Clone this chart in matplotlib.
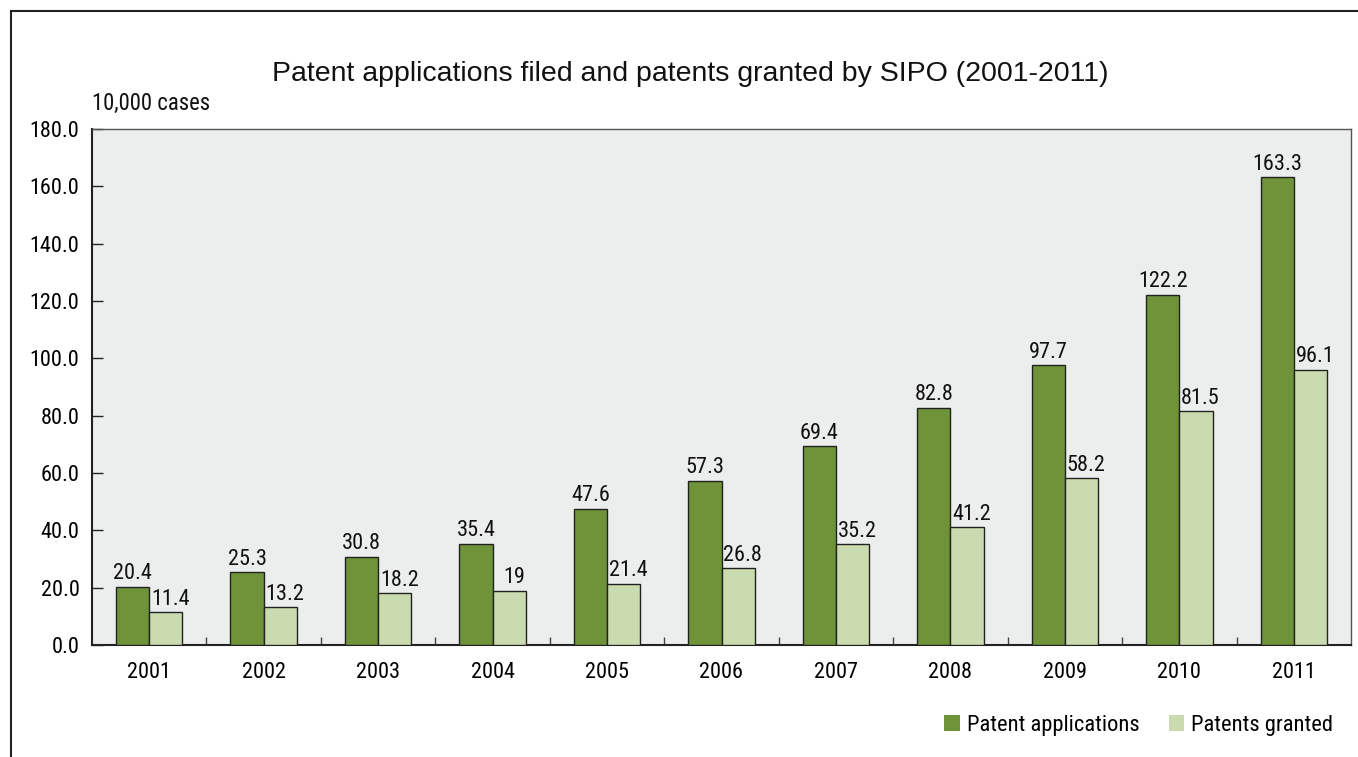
import matplotlib
matplotlib.use("Agg")
import matplotlib.pyplot as plt
import numpy as np
from matplotlib.patches import Rectangle
from matplotlib.lines import Line2D

years = ["2001", "2002", "2003", "2004", "2005", "2006", "2007", "2008", "2009", "2010", "2011"]
applications = [20.4, 25.3, 30.8, 35.4, 47.6, 57.3, 69.4, 82.8, 97.7, 122.2, 163.3]
granted = [11.4, 13.2, 18.2, 19, 21.4, 26.8, 35.2, 41.2, 58.2, 81.5, 96.1]
app_labels = ["20.4", "25.3", "30.8", "35.4", "47.6", "57.3", "69.4", "82.8", "97.7", "122.2", "163.3"]
grant_labels = ["11.4", "13.2", "18.2", "19", "21.4", "26.8", "35.2", "41.2", "58.2", "81.5", "96.1"]
series_names = ["Patent applications", "Patents granted"]
yticks = [0, 20, 40, 60, 80, 100, 120, 140, 160, 180]

narrow = ["Roboto Condensed", "Liberation Sans", "DejaVu Sans"]
regular = ["Liberation Sans", "DejaVu Sans"]
plt.rcParams['font.family'] = narrow

c_dark = "#6f9339"
c_light = "#cbdbb0"
bg = "#eceeed"
fs = 16

fig = plt.figure(figsize=(13.58, 7.57), dpi=100)
ax = fig.add_axes([92/1358, 1-645/757, (1351-92)/1358, (645-129)/757])
ax.set_facecolor(bg)

x = np.arange(len(years))
w = 0.29
ax.bar(x - w/2, applications, w, color=c_dark, edgecolor="#222222", linewidth=1.0, zorder=3)
ax.bar(x + w/2, granted, w, color=c_light, edgecolor="#222222", linewidth=1.0, zorder=3)

for xi, v, lab in zip(x, applications, app_labels):
    ax.text(xi - w/2, v + 0.8, lab, ha="center", va="bottom", fontsize=fs, color="#111111")
for xi, v, lab in zip(x, granted, grant_labels):
    ax.text(xi + w/2 + 0.04, v + 0.8, lab, ha="center", va="bottom", fontsize=fs, color="#111111")

ax.set_xlim(-0.5, len(years) - 0.5)
ax.set_ylim(0, 180)
ax.set_yticks(yticks)
ax.set_yticklabels([f"{t:.1f}" for t in yticks], fontsize=fs)
ax.tick_params(axis="y", direction="in", length=8, width=1, color="#222222", pad=9)

ax.set_xticks(x)
ax.set_xticklabels(years, fontsize=fs)
ax.tick_params(axis="x", length=0, pad=12)
ax.set_xticks(np.arange(0.5, len(years) - 0.5, 1.0), minor=True)
ax.tick_params(axis="x", which="minor", direction="in", length=6, width=1, color="#444444")

for s in ["left", "bottom"]:
    ax.spines[s].set_color("#222222")
    ax.spines[s].set_linewidth(1.5)
for s in ["top", "right"]:
    ax.spines[s].set_color("#555555")
    ax.spines[s].set_linewidth(1.0)

fig.text(690/1358, 1-74/757, "Patent applications filed and patents granted by SIPO (2001-2011)",
         ha="center", va="center", fontsize=20.5, family=regular, color="#111111")
fig.text(92/1358, 1-103/757, "10,000 cases", ha="left", va="center", fontsize=16.4, color="#111111")

handles = [Rectangle((0, 0), 1, 1, facecolor=c_dark, edgecolor="none"),
           Rectangle((0, 0), 1, 1, facecolor=c_light, edgecolor="none")]
fig.legend(handles, series_names, loc="center right", bbox_to_anchor=(1342/1358, 1-725/757),
           ncol=2, frameon=False, fontsize=16.2, handlelength=0.7, handleheight=0.7,
           handletextpad=0.3, columnspacing=1.3, borderaxespad=0)

fig.add_artist(Line2D([11/1358, 11/1358], [0, 1-11/757], transform=fig.transFigure, color="#222222", lw=1.5))
fig.add_artist(Line2D([11/1358, 1], [1-11/757, 1-11/757], transform=fig.transFigure, color="#222222", lw=1.5))

fig.savefig("out.png", dpi=100, facecolor="white")
